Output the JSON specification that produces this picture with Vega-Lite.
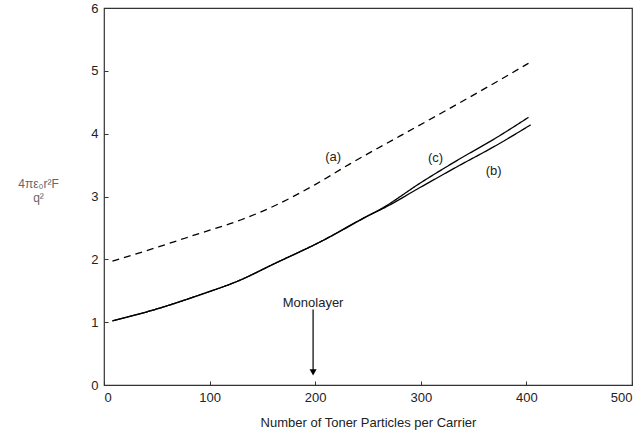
{
  "$schema": "https://vega.github.io/schema/vega-lite/v6.json",
  "width": 528,
  "height": 377,
  "autosize": "none",
  "padding": {"left": 104, "top": 8, "right": 9, "bottom": 56},
  "background": "white",
  "config": {
    "view": {"stroke": "#333", "strokeWidth": 1.2},
    "font": "Liberation Sans",
    "axis": {"grid": false, "domain": false, "labelFont": "Liberation Sans", "titleFont": "Liberation Sans", "labelColor": "#222", "titleColor": "#222", "labelFontSize": 13, "titleFontSize": 13, "titleFontWeight": "normal", "tickColor": "#333", "tickSize": -4, "labelPadding": 10}
  },
  "datasets": {
    "curves": [
      {"series": "a", "x": 8, "y": 1.97},
      {"series": "a", "x": 50, "y": 2.19},
      {"series": "a", "x": 90, "y": 2.41},
      {"series": "a", "x": 130, "y": 2.63},
      {"series": "a", "x": 165, "y": 2.88},
      {"series": "a", "x": 200, "y": 3.19},
      {"series": "a", "x": 233, "y": 3.52},
      {"series": "a", "x": 280, "y": 3.96},
      {"series": "a", "x": 325, "y": 4.38},
      {"series": "a", "x": 365, "y": 4.76},
      {"series": "a", "x": 402, "y": 5.12},
      {"series": "b", "x": 8, "y": 1.02},
      {"series": "b", "x": 50, "y": 1.21},
      {"series": "b", "x": 90, "y": 1.43},
      {"series": "b", "x": 129, "y": 1.67},
      {"series": "b", "x": 160, "y": 1.92},
      {"series": "b", "x": 205, "y": 2.28},
      {"series": "b", "x": 252, "y": 2.71},
      {"series": "b", "x": 262, "y": 2.79},
      {"series": "b", "x": 300, "y": 3.15},
      {"series": "b", "x": 335, "y": 3.48},
      {"series": "b", "x": 370, "y": 3.8},
      {"series": "b", "x": 404, "y": 4.14},
      {"series": "c", "x": 8, "y": 1.02},
      {"series": "c", "x": 50, "y": 1.21},
      {"series": "c", "x": 90, "y": 1.43},
      {"series": "c", "x": 129, "y": 1.67},
      {"series": "c", "x": 160, "y": 1.92},
      {"series": "c", "x": 205, "y": 2.28},
      {"series": "c", "x": 252, "y": 2.71},
      {"series": "c", "x": 262, "y": 2.8},
      {"series": "c", "x": 300, "y": 3.22},
      {"series": "c", "x": 335, "y": 3.58},
      {"series": "c", "x": 370, "y": 3.92},
      {"series": "c", "x": 402, "y": 4.26}
    ],
    "labels": [
      {"x": 217, "y": 3.63, "text": "(a)"},
      {"x": 369, "y": 3.41, "text": "(b)"},
      {"x": 314, "y": 3.62, "text": "(c)"},
      {"x": 198, "y": 1.3, "text": "Monolayer"}
    ],
    "arrow": [
      {"x": 198, "y": 1.2, "y2": 0.2}
    ]
  },
  "layer": [
    {
      "data": {"name": "curves"},
      "mark": {"type": "line", "color": "black", "strokeWidth": 1.3, "interpolate": "monotone"},
      "encoding": {
        "x": {"field": "x", "type": "quantitative", "scale": {"domain": [0, 500], "nice": false}, "axis": {"values": [0, 100, 200, 300, 400, 500], "title": "Number of Toner Particles per Carrier", "titlePadding": 12}},
        "y": {"field": "y", "type": "quantitative", "scale": {"domain": [0, 6], "nice": false}, "axis": {"values": [0, 1, 2, 3, 4, 5, 6], "format": "d", "title": ["4πε₀r²F", "q²"], "titleAngle": 0, "titleAlign": "center", "titleBaseline": "top", "titleX": -66, "titleY": 170, "titleColor": "#666", "titleFontSize": 12}},
        "detail": {"field": "series"},
        "strokeDash": {"field": "series", "type": "nominal", "scale": {"domain": ["a", "b", "c"], "range": [[7, 5], [1, 0], [1, 0]]}, "legend": null}
      }
    },
    {
      "data": {"name": "arrow"},
      "mark": {"type": "rule", "color": "black", "strokeWidth": 1.2},
      "encoding": {
        "x": {"field": "x", "type": "quantitative"},
        "y": {"field": "y", "type": "quantitative"},
        "y2": {"field": "y2"}
      }
    },
    {
      "data": {"name": "arrow"},
      "mark": {"type": "point", "shape": "triangle-down", "filled": true, "color": "black", "size": 50, "opacity": 1},
      "encoding": {
        "x": {"field": "x", "type": "quantitative"},
        "y": {"field": "y2", "type": "quantitative"}
      }
    },
    {
      "data": {"name": "labels"},
      "mark": {"type": "text", "fontSize": 13, "color": "#222", "font": "Liberation Sans"},
      "encoding": {
        "x": {"field": "x", "type": "quantitative"},
        "y": {"field": "y", "type": "quantitative"},
        "text": {"field": "text"}
      }
    }
  ]
}
